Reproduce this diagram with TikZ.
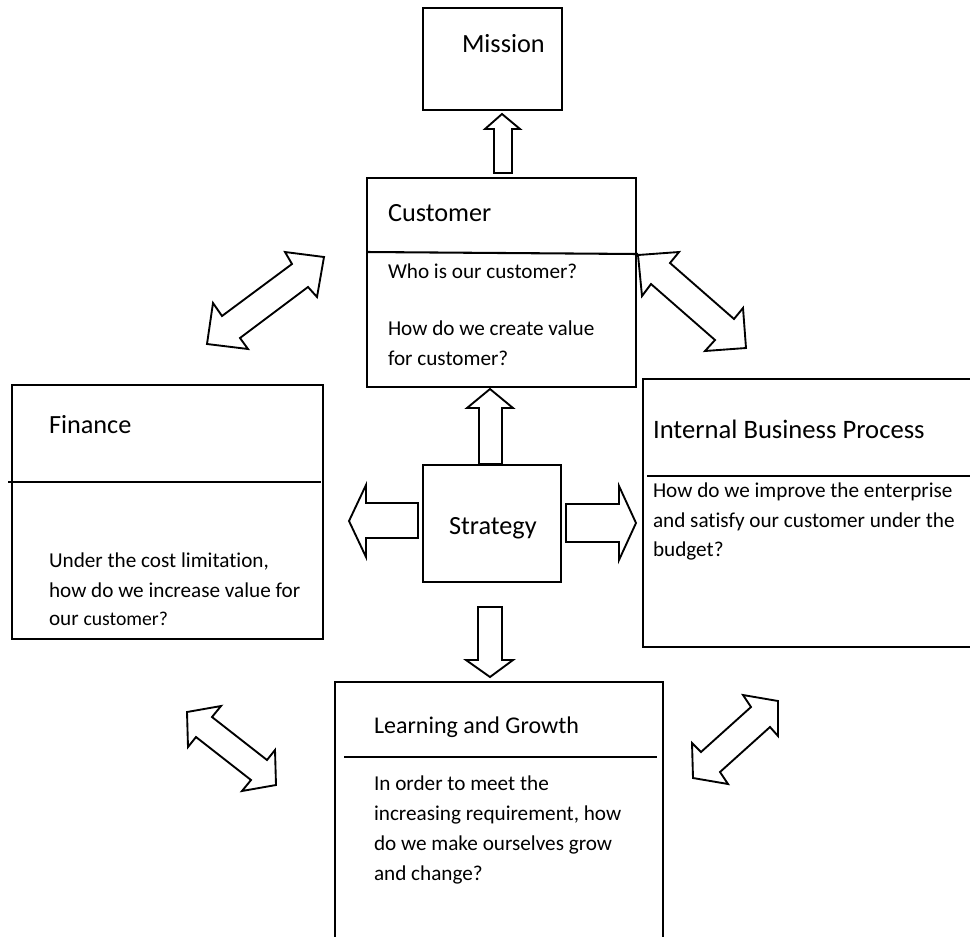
\documentclass[tikz,border=0pt]{standalone}
\usepackage{fontspec}
\setmainfont[Ligatures=NoCommon]{Carlito}
\begin{document}
\begin{tikzpicture}[x=0.5333pt,y=-0.5333pt, line width=1.1pt, line join=miter,
  ttl/.style={anchor=base west, inner sep=0pt, font=\fontsize{14}{17}\selectfont},
  txt/.style={anchor=base west, inner sep=0pt, font=\fontsize{11.3}{15.9}\selectfont},
  boxline/.style={draw=black},
  blockarrow/.style={draw=black, fill=white, line width=1pt}]
\useasboundingbox (0,0) rectangle (970,936);
\clip (0,0) rectangle (970,936);
\fill[white] (0,0) rectangle (970,936);

% Boxes
\draw[boxline] (423,8) rectangle (562,110);
\draw[boxline] (367,178) rectangle (636,387);
\draw[boxline] (367,252) -- (638,254);
\draw[boxline] (423,465) rectangle (561,582);
\draw[boxline] (12,385) rectangle (323,639);
\draw[boxline] (8,482) -- (321,482);
\draw[boxline] (643,379) rectangle (990,647);
\draw[boxline] (647,476) -- (975,476);
\draw[boxline] (335,682) rectangle (663,960);
\draw[boxline] (344,757) -- (657,757);

% Texts
\node[ttl] (mission) at (461,52) {Mission};
\node[ttl] (customer) at (387,221) {Customer};
\node[txt] (c1) at (387,278) {Who is our customer?};
\node[txt] (c2) at (387,335) {How do we create value};
\node[txt] (c3) at (387,365) {for customer?};
\node[ttl] (strategy) at (448,534) {Strategy};
\node[ttl] (finance) at (48,433) {Finance};
\node[txt] (f1) at (48,567) {Under the cost limitation,};
\node[txt] (f2) at (48,597) {how do we increase value for};
\node[txt] (f3) at (48,625) {our {\fontsize{10.5}{12}\selectfont customer?}};
\node[ttl, font=\fontsize{14.2}{17}\selectfont] (internal) at (652,438) {Internal Business Process};
\node[txt] (i1) at (652,497) {How do we improve the enterprise};
\node[txt] (i2) at (652,527) {and satisfy our customer under the};
\node[txt] (i3) at (652,556) {budget?};
\node[ttl, font=\fontsize{12.8}{16}\selectfont] (learning) at (373,733) {Learning and Growth};
\node[txt] (l1) at (373,790) {In order to meet the};
\node[txt] (l2) at (373,820) {increasing requirement, how};
\node[txt] (l3) at (373,850) {do we make ourselves grow};
\node[txt] (l4) at (373,880) {and change?};

% Straight block arrows
\draw[blockarrow] (494,173) -- (494,129) -- (485,129) -- (502,114) -- (520,129) -- (512,129) -- (512,173) -- cycle;
\draw[blockarrow] (479,464) -- (479,408) -- (467,408) -- (490,389) -- (513,408) -- (502,408) -- (502,464) -- cycle;
\draw[blockarrow] (418,503) -- (366,503) -- (366,485) -- (349,521) -- (366,557) -- (366,538) -- (418,538) -- cycle;
\draw[blockarrow] (566,504) -- (619,504) -- (619,486) -- (636,523) -- (619,560) -- (619,542) -- (566,542) -- cycle;
\draw[blockarrow] (478,607) -- (502,607) -- (502,660) -- (513,660) -- (490,677) -- (466,660) -- (478,660) -- cycle;

% Diagonal double block arrows
\draw[blockarrow] (324,257) -- (285,252) -- (292,264) -- (222,316) -- (213,303) -- (207,344) -- (248,349) -- (240,338) -- (308,287) -- (317,297) -- cycle;
\draw[blockarrow] (638,255) -- (679,252) -- (670,263) -- (734,319) -- (743,308) -- (746,348) -- (705,351) -- (715,340) -- (651,284) -- (642,296) -- cycle;
\draw[blockarrow] (187,712) -- (221,706) -- (212,717) -- (267,760) -- (275,750) -- (276,785) -- (242,791) -- (251,780) -- (196,737) -- (188,747) -- cycle;
\draw[blockarrow] (778,701) -- (743,695) -- (751,707) -- (701,752) -- (692,743) -- (693,778) -- (728,784) -- (720,772) -- (770,727) -- (778,736) -- cycle;
\end{tikzpicture}
\end{document}
